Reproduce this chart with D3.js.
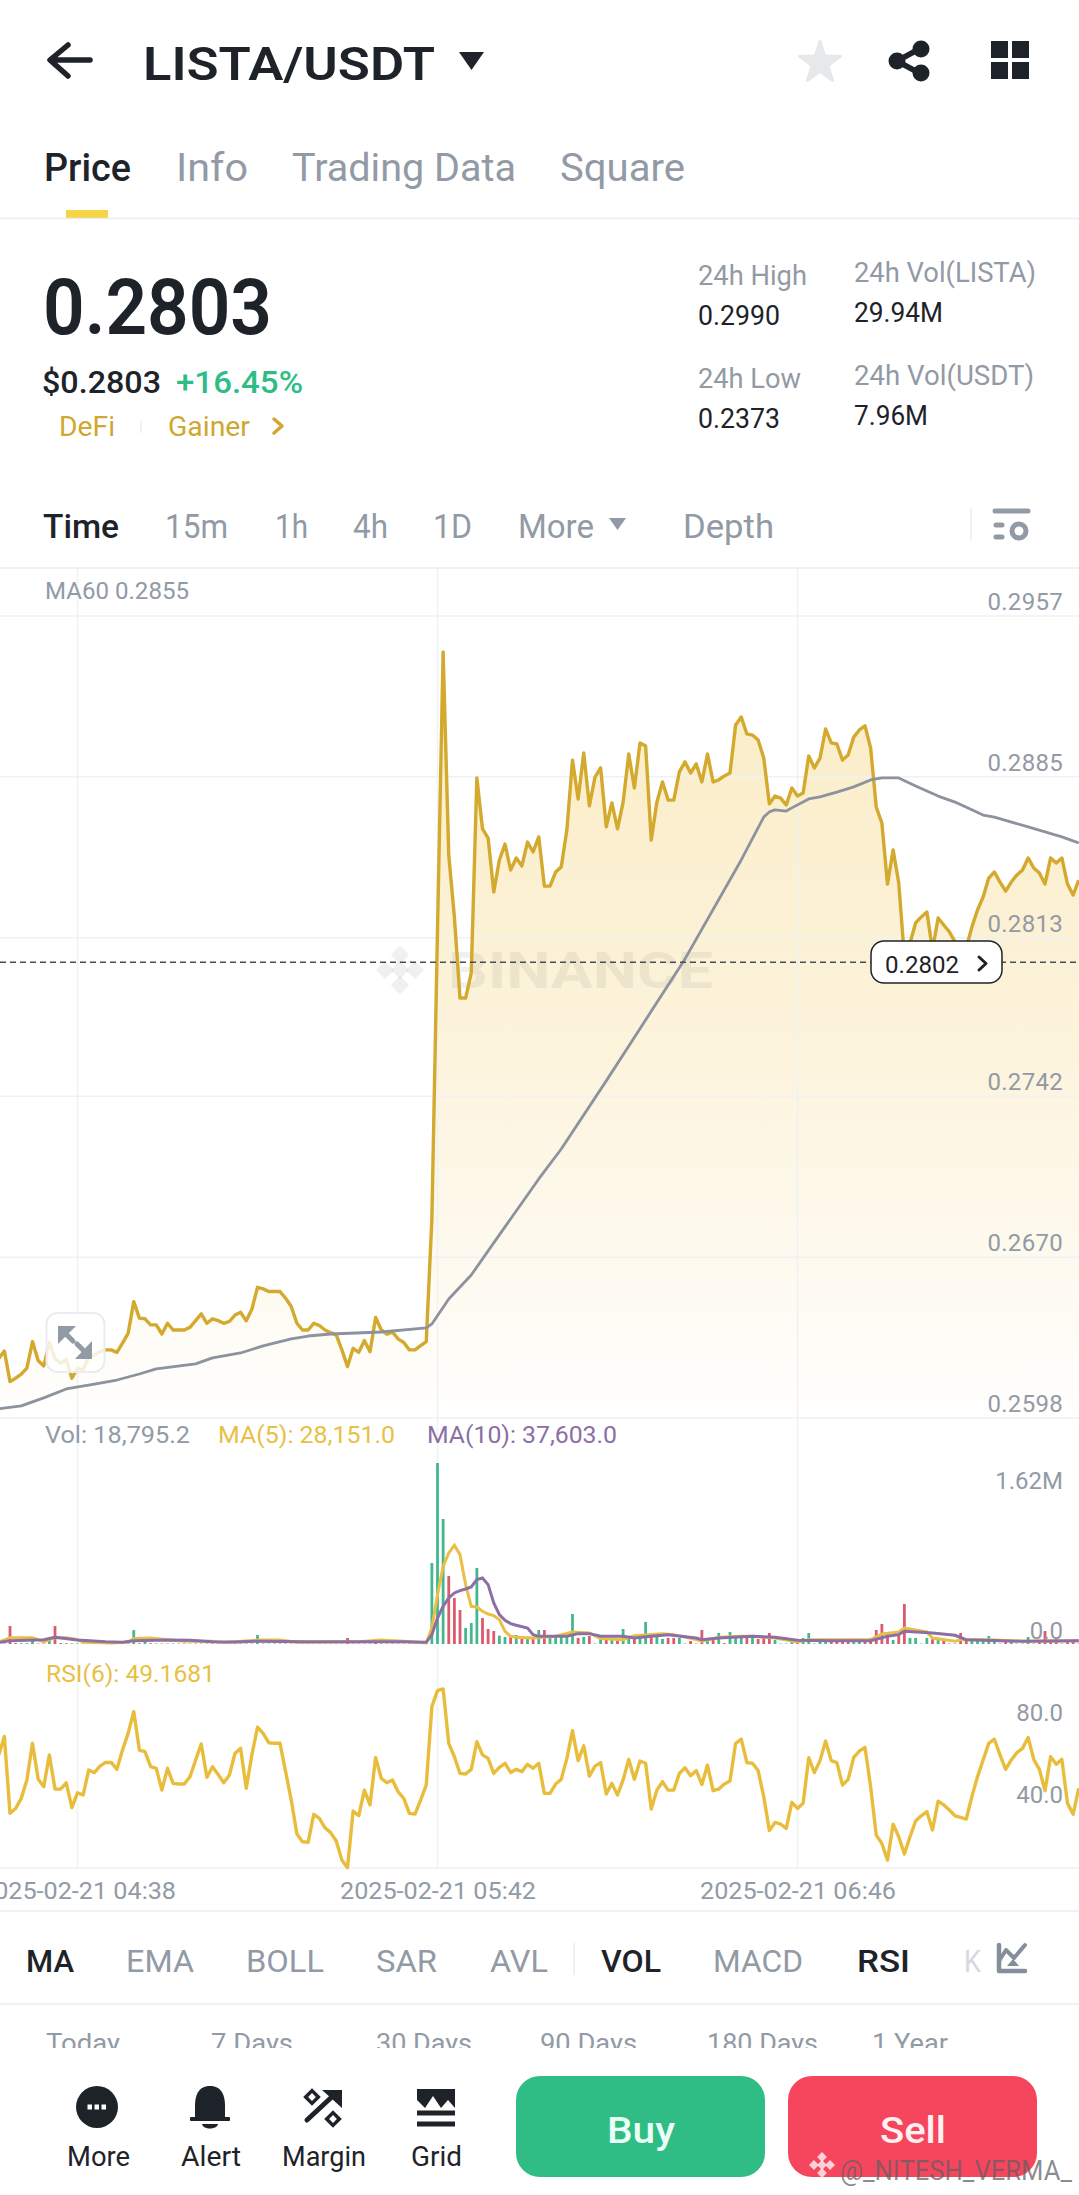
<!DOCTYPE html>
<html><head><meta charset="utf-8">
<script src="https://cdn.jsdelivr.net/npm/d3@7/dist/d3.min.js"></script>
<style>html,body{margin:0;padding:0;background:#fff;overflow:hidden}svg{display:block}text{font-family:Roboto,"Noto Sans",sans-serif}</style>
</head><body><svg id="c" width="1079" height="2195"></svg>
<script>
// ---------- data (one reading per minute, from 04:24) ----------
const price=[.26247,.26280,.26143,.26158,.26176,.26203,.26322,.26237,.26213,.26319,
.26247,.26225,.26243,.26158,.26203,.26195,.26255,.26262,.26277,.26285,
.26285,.26274,.26315,.26359,.26501,.26427,.26424,.26397,.26397,.26356,
.26404,.26374,.26374,.26374,.26386,.26416,.26446,.26404,.26424,.26416,
.26404,.26412,.26441,.26453,.26415,.26467,.26565,.26558,.26546,.26546,
.26546,.26516,.26479,.26404,.26374,.26374,.26404,.26394,.26374,.26362,
.26352,.26285,.26210,.26292,.26274,.26327,.26277,.26430,.26374,.26355,
.26364,.26334,.26318,.26285,.26285,.26304,.26322,.26871,.28165,.29409,
.28500,.28223,.27860,.27860,.27972,.28845,.28617,.28576,.28335,.28478,
.28549,.28433,.28487,.28451,.28558,.28514,.28581,.28361,.28361,.28424,
.28447,.28612,.28925,.28751,.28957,.28720,.28849,.28890,.28626,.28733,
.28617,.28737,.28952,.28800,.29002,.28988,.28567,.28737,.28827,.28746,
.28746,.28872,.28917,.28867,.28908,.28827,.28952,.28827,.28836,.28854,
.28867,.29082,.29118,.29042,.29037,.29015,.28934,.28729,.28764,.28755,
.28724,.28800,.28764,.28778,.28943,.28890,.28934,.29064,.29002,.28997,
.28925,.28948,.29028,.29060,.29078,.28979,.28715,.28643,.28370,.28523,
.28375,.28044,.28106,.28196,.28223,.28245,.28075,.28218,.28187,.28156,
.28111,.28097,.28084,.28178,.28254,.28312,.28397,.28424,.28379,.28339,
.28379,.28411,.28433,.28487,.28442,.28420,.28370,.28487,.28464,.28487,
.28370,.28321,.28388];
const ma60Minutes=[0,4,8,12,17,21,25,28,35,38,43,47,52,55,59,68,76,77,80,84,88,96,100,108,115,122,132,136,137,138,140,141,144,146,149,152,155,157,160,163,167,170,175,177,183,189,192];
const ma60Values=[.26021,.26034,.26070,.26110,.26132,.26150,.26177,.26200,.26222,.26249,.26271,.26303,.26334,.26347,.26356,.26365,.26383,.26401,.26513,.26620,.26764,.27050,.27184,.27489,.27762,.28035,.28478,.28670,.28693,.28702,.28697,.28711,.28751,.28760,.28782,.28805,.28836,.28845,.28845,.28809,.28764,.28737,.28679,.28670,.28626,.28581,.28554];
const rsi=[65.4,74.4,36.7,39.1,44.0,53.1,71.1,53.6,49.8,65.4,
48.6,48.6,51.7,39.5,46.8,45.7,58.0,56.7,59.9,61.7,
61.7,58.3,67.8,76.0,86.7,67.8,67.0,59.6,58.8,48.1,
58.8,51.4,51.1,51.1,54.7,62.9,70.8,54.4,59.6,55.8,
51.7,55.5,66.2,68.6,49.0,65.4,79.0,76.0,71.4,71.1,
71.1,57.2,43.2,26.5,22.7,22.4,36.2,34.2,29.6,27.2,
23.1,13.7,10.0,37.8,35.5,48.1,40.8,64.2,53.9,51.7,
53.1,47.3,44.0,36.7,36.3,43.2,50.6,89.1,97.0,97.8,
71.1,64.5,56.3,56.0,58.3,71.9,65.4,63.7,56.3,59.3,
61.3,56.8,58.3,57.2,60.8,58.8,61.3,46.5,46.5,51.1,
53.4,63.7,77.3,62.6,69.9,55.0,59.9,61.6,46.2,51.4,
45.7,53.1,63.2,53.4,62.4,61.3,38.8,48.1,52.2,48.1,
48.1,56.3,59.1,55.2,57.7,50.9,60.4,47.8,48.6,51.1,
52.6,71.1,73.2,61.6,61.3,57.7,44.9,28.2,32.2,31.4,
29.3,42.1,39.1,41.6,64.0,56.7,62.6,72.2,62.6,61.6,
50.6,53.4,64.2,67.3,69.1,49.8,26.0,21.9,13.7,31.3,
25.2,16.7,25.2,32.9,35.5,37.5,28.5,42.7,40.8,38.3,
35.5,34.7,33.9,44.9,54.7,62.9,71.1,73.1,65.4,58.3,
62.9,66.5,68.6,74.0,63.2,58.3,47.8,64.5,60.8,63.2,
41.6,36.3,49.0];
const volumes=[5,5,194,10,8,8,65,5,5,40,
194,10,8,6,5,5,5,5,5,5,
5,5,5,8,150,8,30,8,6,5,
5,5,5,5,5,5,5,5,5,5,
5,5,5,5,5,5,97,5,5,5,
5,5,5,5,5,5,5,5,5,5,
5,5,65,5,5,5,5,40,5,5,
5,5,5,5,5,5,5,875,1955,1350,
734,497,367,173,227,821,281,162,140,90,
76,90,97,76,65,54,151,151,65,76,
86,97,324,65,76,86,5,54,54,54,
54,162,76,76,76,238,97,86,54,65,
65,65,5,32,5,151,65,65,119,10,
130,65,76,86,65,54,65,119,43,5,
5,43,43,65,119,5,43,43,43,54,
54,43,43,43,43,65,151,216,119,43,
97,432,65,65,5,65,65,43,43,5,
5,119,43,43,43,43,86,43,5,43,
43,5,5,76,5,43,140,43,65,5,
43,43,5];
const volumeSides=("grrrgggrrg"+"rrrgggrgrg"+"grgrgggrgr"+"gggrgrggrg"+"rgrgrggrgr"+"grgrgrggrg"+"rgrgrggrgr"+"grgrgrgggg"+"rrrgggrrrg"+"grgrgrgrgg"+"gggrgrggrg"+"rggrggrggr"+"rggrgrgrgr"+"gggrgrrrgg"+"ggrgggggrr"+"rrggrrrrrg"+"rrggggrgrg"+"grrggggggr"+"gggggrrrrg"+"rrg").split("");
const volMa5Minutes=[0,2,6,8,10,12,14,15,20,23,24,27,30,33,38,40,46,50,53,60,64,68,72,76,77,78,79,80,81,82,83,84,85,86,87,88,89,90,91,92,95,99,102,105,107,111,113,118,120,124,125,128,132,134,138,142,144,148,155,157,160,161,165,166,170,171,176,182,192];
const volMa5Values=[20,68,68,22,68,68,47,20,10,20,60,65,47,30,30,15,43,43,20,22,25,43,30,11,173,533,839,983,1066,965,641,407,400,353,324,306,263,137,83,72,65,83,130,119,58,47,90,112,101,47,29,72,83,83,65,22,47,47,47,108,130,173,130,65,29,47,47,29,36];
const volMa10Minutes=[0,2,8,10,14,19,22,24,30,34,38,42,46,55,65,72,76,77,78,79,80,81,82,83,84,85,86,87,88,89,90,91,92,94,95,96,101,103,105,107,111,113,116,119,124,125,128,134,138,142,148,155,158,160,161,166,170,172,182,192];
const volMa10Values=[18,36,45,72,43,25,20,36,43,40,25,22,30,25,25,25,18,101,281,407,497,551,576,594,616,695,713,641,443,317,256,220,202,173,101,83,83,112,112,83,83,65,83,101,65,47,65,83,72,40,36,36,83,101,137,119,94,47,29,36];
const priceTicks=[0.2957,0.2885,0.2813,0.2742,0.2670,0.2598];
const volTicks=[1620,0];
const volTickLabels=["1.62M","0.0"];
const rsiTicks=[80,40];
const timeTickMinutes=[14,78,142];
const timeTickLabels=["2025-02-21 04:38","2025-02-21 05:42","2025-02-21 06:46"];
const currentPrice=0.2802;
const tabs=[["Price",44,87,"#1e2329"],["Info",176,72,"#929aa5"],["Trading Data",292,224,"#929aa5"],["Square",560,125,"#929aa5"]];
const intervals=[["Time",43,76,"#1e2329"],["15m",165,63,"#929aa5"],["1h",275,33,"#929aa5"],["4h",353,35,"#929aa5"],["1D",433,39,"#929aa5"],["More",518,76,"#929aa5"],["Depth",683,91,"#929aa5"]];
const indicators=[["MA",26,48,"#1e2329"],["EMA",126,68,"#929aa5"],["BOLL",246,78,"#929aa5"],["SAR",376,61,"#929aa5"],["AVL",490,58,"#929aa5"],["VOL",601,60,"#1e2329"],["MACD",713,90,"#929aa5"],["RSI",857,53,"#1e2329"],["K",964,17,"#d5d8dc"]];
const ranges=[["Today",46,74],["7 Days",211,82],["30 Days",376,96],["90 Days",540,97],["180 Days",707,111],["1 Year",872,76]];
const actions=[["More",67,63],["Alert",181,60],["Margin",282,84],["Grid",411,51]];

// ---------- scales ----------
const x=d3.scaleLinear().domain([0,192]).range([-1.25,1078.75]);
const yP=d3.scaleLinear().domain([0.2598,0.2957]).range([1418,616]);
const yV=d3.scaleLinear().domain([0,1620]).range([1644,1494]);
const yR=d3.scaleLinear().domain([40,80]).range([1806.6,1725.2]);
const svg=d3.select("#c");
const GRID="#eff1f3",DARK="#1e2329",GREY="#929aa5",GOLD="#d3a92e",YEL="#e9bf45",PUR="#8b6fa5";
function T(s,xx,base,size,fill,weight,w,anchor){
  const t=svg.append("text").attr("x",xx).attr("y",base).attr("font-size",size).attr("fill",fill).attr("font-weight",weight||400).text(s);
  if(w)t.attr("textLength",w).attr("lengthAdjust","spacingAndGlyphs");
  if(anchor)t.attr("text-anchor",anchor);
  return t;
}
function H(y,c){svg.append("line").attr("x1",0).attr("x2",1079).attr("y1",y).attr("y2",y).attr("stroke",c||"#eaecef").attr("stroke-width",1.5);}
function P(d,fill,stroke,sw){return svg.append("path").attr("d",d).attr("fill",fill||"none").attr("stroke",stroke||"none").attr("stroke-width",sw||0).attr("stroke-linecap","round").attr("stroke-linejoin","round");}

// ---------- header ----------
P("M90 60H52M68 45L50 60L68 76",null,DARK,5.5);
T("LISTA/USDT",143,80,47,DARK,600,292);
P("M459 52H484L471.5 70Z",DARK);
svg.append("path").attr("d",d3.symbol().type(d3.symbolStar).size(520)()).attr("transform","translate(820,63)").attr("fill","#e6e8ea").attr("stroke","#e6e8ea").attr("stroke-width",3).attr("stroke-linejoin","round");
P("M921 48L897 61L921 74",null,DARK,5.5);
[[921,49],[897,61],[921,73]].forEach(c=>svg.append("circle").attr("cx",c[0]).attr("cy",c[1]).attr("r",8.5).attr("fill",DARK));
[[991,41],[1012,41],[991,62],[1012,62]].forEach(c=>svg.append("rect").attr("x",c[0]).attr("y",c[1]).attr("width",17).attr("height",17).attr("fill",DARK));
tabs.forEach(t=>T(t[0],t[1],181,38,t[3],t[3]===DARK?500:400,t[2]));
svg.append("rect").attr("x",66).attr("y",210).attr("width",42).attr("height",8).attr("fill","#f5d445");
H(218.5);
T("0.2803",43,334,77,DARK,600,229);
T("$0.2803",42,393,31,DARK,500,119);
T("+16.45%",176,393,31,"#2ebd85",500,127);
T("DeFi",59,436,27,"#d0a72f",400,56);
svg.append("line").attr("x1",141).attr("x2",141).attr("y1",421).attr("y2",433).attr("stroke","#eaecef").attr("stroke-width",1.5);
T("Gainer",168,436,27,"#d0a72f",400,82);
P("M274 419L282 426L274 433",null,"#d0a72f",3.5);
T("24h High",698,285,28,GREY,400,109);
T("0.2990",698,325,27,DARK,400,82);
T("24h Low",698,388,28,GREY,400,103);
T("0.2373",698,428,27,DARK,400,82);
T("24h Vol(LISTA)",854,282,28,GREY,400,182);
T("29.94M",854,322,27,DARK,400,89);
T("24h Vol(USDT)",854,385,28,GREY,400,180);
T("7.96M",854,425,27,DARK,400,74);
intervals.forEach(t=>T(t[0],t[1],538,33,t[3],t[3]===DARK?500:400,t[2]));
P("M609 518H626L617.5 530Z",GREY);
svg.append("line").attr("x1",971).attr("x2",971).attr("y1",508).attr("y2",541).attr("stroke","#eaecef").attr("stroke-width",1.5);
P("M995 511H1028",null,GREY,5);
P("M996 525H1002M996 537H1002",null,GREY,5);
svg.append("circle").attr("cx",1019).attr("cy",531).attr("r",7).attr("fill","none").attr("stroke",GREY).attr("stroke-width",5);
H(568);

// ---------- watermark helper ----------
function diamonds(cx,cy,s,fill){
  const g=svg.append("g").attr("fill",fill);
  [[0,-1],[-1,0],[1,0],[0,1],[0,0]].forEach(o=>{
    g.append("rect").attr("x",-s/2).attr("y",-s/2).attr("width",s).attr("height",s)
     .attr("transform",`translate(${cx+o[0]*s*1.15},${cy+o[1]*s*1.15}) rotate(45)`);
  });
}

// ---------- price pane ----------
const defs=svg.append("defs");
const grad=defs.append("linearGradient").attr("id","fillG").attr("gradientUnits","userSpaceOnUse").attr("x1",0).attr("x2",0).attr("y1",yP(0.29409)).attr("y2",yP(0.2598));
grad.append("stop").attr("offset",0).attr("stop-color","#f0c040").attr("stop-opacity",0.30);
grad.append("stop").attr("offset",0.5).attr("stop-color","#f0c040").attr("stop-opacity",0.19);
grad.append("stop").attr("offset",1).attr("stop-color","#f0c040").attr("stop-opacity",0.01);
const idx=price.map((_,i)=>i);
svg.append("path").datum(idx).attr("fill","url(#fillG)").attr("d",d3.area().x(i=>x(i)).y0(yP(0.2598)).y1(i=>yP(price[i])));
// grid lines
svg.append("g").selectAll("line").data(priceTicks).join("line").attr("x1",0).attr("x2",1079).attr("y1",d=>yP(d)).attr("y2",d=>yP(d)).attr("stroke",GRID).attr("stroke-width",1.5);
svg.append("g").selectAll("line").data(timeTickMinutes).join("line").attr("x1",d=>x(d)).attr("x2",d=>x(d)).attr("y1",568).attr("y2",1868).attr("stroke",GRID).attr("stroke-width",1.5);
H(1868,GRID);
// watermark
diamonds(400,970,13,"rgba(120,120,120,.11)");
svg.append("text").attr("x",448).attr("y",988).attr("font-size",50).attr("font-weight",700).attr("fill","rgba(120,120,120,.11)").attr("textLength",265).attr("lengthAdjust","spacingAndGlyphs").text("BINANCE");
// lines
svg.append("path").datum(idx).attr("fill","none").attr("stroke",GOLD).attr("stroke-width",3.4).attr("stroke-linejoin","round")
  .attr("d",d3.line().x(i=>x(i)).y(i=>yP(price[i])));
svg.append("path").datum(ma60Minutes.map((m,k)=>[m,ma60Values[k]])).attr("fill","none").attr("stroke","#8c929e").attr("stroke-width",2.8).attr("stroke-linejoin","round")
  .attr("d",d3.line().x(d=>x(d[0])).y(d=>yP(d[1])));
T("MA60 0.2855",45,599,24,GREY,400,144);
// y axis
const axP=svg.append("g").attr("transform","translate(1063,0)").call(d3.axisLeft(yP).tickValues(priceTicks).tickFormat(d3.format(".4f")).tickSize(0));
axP.select(".domain").remove();
axP.selectAll("text").attr("font-size",24).attr("fill",GREY).attr("x",0).attr("dy",-6.5).attr("font-family","Roboto").style("letter-spacing","0.3px");
// current price
svg.append("line").attr("x1",0).attr("x2",1079).attr("y1",yP(currentPrice)).attr("y2",yP(currentPrice)).attr("stroke","#474d57").attr("stroke-width",1.6).attr("stroke-dasharray","6 4");
svg.append("rect").attr("x",871).attr("y",941).attr("width",131).attr("height",42).attr("rx",13).attr("fill","#fff").attr("stroke",DARK).attr("stroke-width",1.5);
T(d3.format(".4f")(currentPrice),885,973,24,DARK,400,74);
P("M979 957L986 963.5L979 970",null,DARK,3);
// expand button
svg.append("rect").attr("x",46.5).attr("y",1313).attr("width",58).attr("height",59).attr("rx",11).attr("fill","rgba(255,255,255,.82)").attr("stroke","#eaecef").attr("stroke-width",2);
P("M66 1334L73 1341",null,GREY,5);
P("M58 1326H76L58 1344Z",GREY);
P("M84 1351L77 1344",null,GREY,5);
P("M92 1359H75L92 1341Z",GREY);

// ---------- volume pane ----------
T("Vol: 18,795.2",45,1443,24,GREY,400,145);
T("MA(5): 28,151.0",218,1443,24,YEL,400,177);
T("MA(10): 37,603.0",427,1443,24,PUR,400,190);
svg.append("g").selectAll("rect").data(idx).join("rect")
  .attr("x",i=>x(i)-1.4).attr("width",2.8)
  .attr("y",i=>yV(volumes[i])).attr("height",i=>yV(0)-yV(volumes[i]))
  .attr("fill",i=>volumeSides[i]==="g"?"#43b88c":"#dc5a6e");
const lv=d3.line().x(d=>x(d[0])).y(d=>yV(d[1]));
svg.append("path").datum(volMa5Minutes.map((m,k)=>[m,volMa5Values[k]])).attr("fill","none").attr("stroke",YEL).attr("stroke-width",3).attr("d",lv);
svg.append("path").datum(volMa10Minutes.map((m,k)=>[m,volMa10Values[k]])).attr("fill","none").attr("stroke",PUR).attr("stroke-width",3).attr("d",lv);
const axV=svg.append("g").attr("transform","translate(1063,0)").call(d3.axisLeft(yV).tickValues(volTicks).tickFormat((d,i)=>volTickLabels[i]).tickSize(0));
axV.select(".domain").remove();
axV.selectAll("text").attr("font-size",24).attr("fill",GREY).attr("x",0).attr("dy",-6).attr("font-family","Roboto");

// ---------- RSI pane ----------
T("RSI(6): 49.1681",46,1682,24,YEL,400,169);
svg.append("path").datum(idx).attr("fill","none").attr("stroke","#e9bd3c").attr("stroke-width",3.4).attr("stroke-linejoin","round")
  .attr("d",d3.line().x(i=>x(i)).y(i=>yR(rsi[i])));
const axR=svg.append("g").attr("transform","translate(1063,0)").call(d3.axisLeft(yR).tickValues(rsiTicks).tickFormat(d3.format(".1f")).tickSize(0));
axR.select(".domain").remove();
axR.selectAll("text").attr("font-size",24).attr("fill",GREY).attr("x",0).attr("dy",-4.5).attr("font-family","Roboto");
// time axis
const axT=svg.append("g").attr("transform","translate(0,1890)").call(d3.axisBottom(x).tickValues(timeTickMinutes).tickFormat((d,i)=>timeTickLabels[i]).tickSize(0));
axT.select(".domain").remove();
axT.selectAll("text").attr("font-size",24).attr("fill",GREY).attr("y",0).attr("dy",9).attr("font-family","Roboto").attr("textLength",196).attr("lengthAdjust","spacingAndGlyphs");

// ---------- bottom rows ----------
H(1911);
indicators.forEach(t=>T(t[0],t[1],1972,31,t[3],t[3]===DARK?500:400,t[2]));
svg.append("line").attr("x1",574).attr("x2",574).attr("y1",1943).attr("y2",1975).attr("stroke","#eaecef").attr("stroke-width",1.5);
P("M999 1945V1971H1025",null,"#848e9c",4.5);
P("M999 1961L1006 1950L1014 1958L1025 1945",null,"#848e9c",4);
P("M1007 1966L1013 1959L1019 1966Z","#848e9c");
H(2004);
svg.append("clipPath").attr("id","cut").append("rect").attr("x",0).attr("y",2010).attr("width",1079).attr("height",38);
const rg=svg.append("g").attr("clip-path","url(#cut)");
ranges.forEach(t=>rg.append("text").attr("x",t[1]).attr("y",2052).attr("font-size",26).attr("fill",GREY).attr("textLength",t[2]).attr("lengthAdjust","spacingAndGlyphs").text(t[0]));

// footer icons
svg.append("circle").attr("cx",97).attr("cy",2107).attr("r",21).attr("fill",DARK);
[87.5,94.5,101.5].forEach(a=>svg.append("rect").attr("x",a).attr("y",2104.5).attr("width",4.5).attr("height",5).attr("fill","#fff"));
P("M210 2086C198 2086 195 2096 195 2106V2118H225V2106C225 2096 222 2086 210 2086Z",DARK);
P("M191 2118H229V2120H191Z",DARK,DARK,2);
P("M202 2124H218C217 2130 203 2130 202 2124Z",DARK);
P("M307 2120L335 2094",null,DARK,5);
P("M322 2090H342V2108Z",DARK);
svg.append("rect").attr("x",-4.5).attr("y",-4.5).attr("width",9).attr("height",9).attr("transform","translate(312,2097) rotate(45)").attr("fill","none").attr("stroke",DARK).attr("stroke-width",3.5);
svg.append("rect").attr("x",-4.5).attr("y",-4.5).attr("width",9).attr("height",9).attr("transform","translate(333,2119) rotate(45)").attr("fill","none").attr("stroke",DARK).attr("stroke-width",3.5);
P("M417 2089H455V2108L448 2100L441 2108L433 2096L425 2108L417 2100Z",DARK);
P("M417 2113H455M417 2124H455",null,DARK,5).attr("stroke-linecap","butt");
actions.forEach(t=>T(t[0],t[1],2166,27,DARK,400,t[2]));
// buttons
svg.append("rect").attr("x",516).attr("y",2076).attr("width",249).attr("height",101).attr("rx",24).attr("fill","#2fbd85");
svg.append("rect").attr("x",788).attr("y",2076).attr("width",249).attr("height",101).attr("rx",24).attr("fill","#f6465d");
T("Buy",641,2143,37,"#eafff5",500,68,"middle");
T("Sell",913,2143,37,"#fff0f2",500,66,"middle");
// corner credit
diamonds(822,2165,7,"rgba(255,255,255,.75)");
T("@_NITESH_VERMA_",840,2180,27,"rgba(95,95,100,.72)",400,232);
</script></body></html>
